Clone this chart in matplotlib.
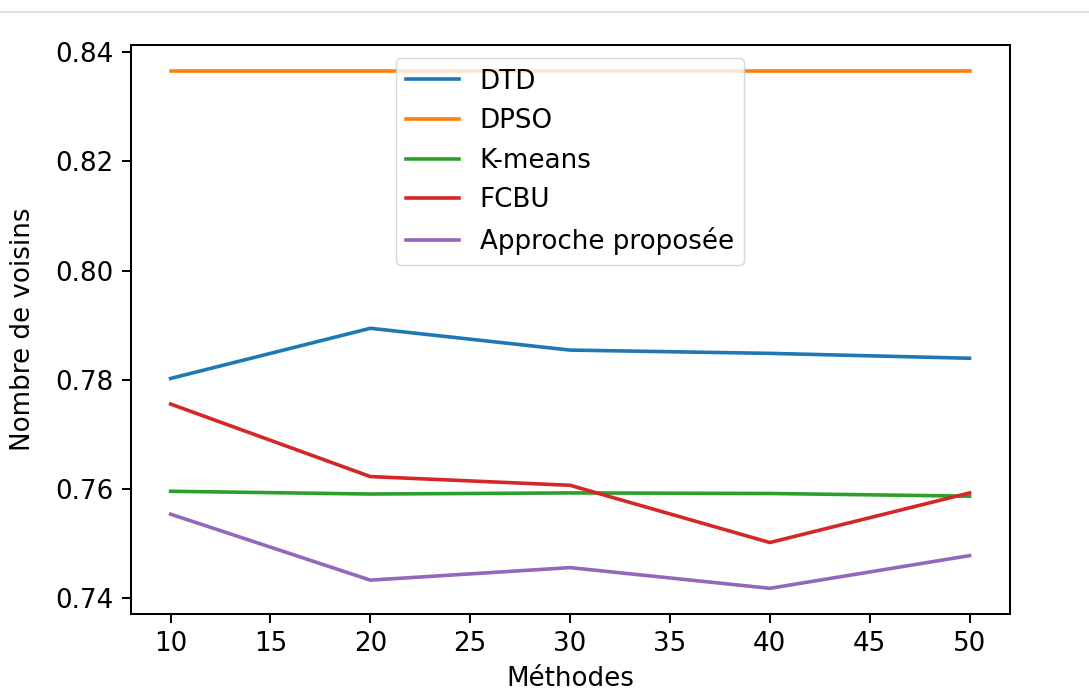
import matplotlib
matplotlib.use("Agg")
import matplotlib.pyplot as plt
from matplotlib.lines import Line2D

# x values and scores
x_vals = [10, 20, 30, 40, 50]
dtd = [0.7802, 0.7894, 0.7854, 0.7848, 0.7839]
dpso = [0.8366, 0.8366, 0.8366, 0.8366, 0.8366]
kmeans = [0.7595, 0.7590, 0.7592, 0.7591, 0.7586]
fcbu = [0.7755, 0.7622, 0.7606, 0.7501, 0.7592]
proposed = [0.7553, 0.7432, 0.7455, 0.7417, 0.7477]

series_names = ["DTD", "DPSO", "K-means", "FCBU", "Approche proposée"]
series_vals = [dtd, dpso, kmeans, fcbu, proposed]

plt.rcParams["font.family"] = ["DejaVu Sans"]
plt.rcParams["font.size"] = 18.8

fig = plt.figure(figsize=(10.89, 6.94), dpi=100)
ax = fig.add_axes([0.120, 0.115, 0.807, 0.820])

for name, vals in zip(series_names, series_vals):
    ax.plot(x_vals, vals, lw=2.6, label=name)

ax.set_xlabel("Méthodes", labelpad=6)
ax.set_ylabel("Nombre de voisins", labelpad=14)
ax.set_yticks([0.74, 0.76, 0.78, 0.80, 0.82, 0.84])
ax.tick_params(length=6.3, width=1.45, pad=6)
for sp in ax.spines.values():
    sp.set_linewidth(1.45)

ax.legend(loc="upper center", handlelength=2.0, borderpad=0.4,
          labelspacing=0.52, framealpha=0.8)

# light cell border at the top of the screenshot
fig.add_artist(Line2D([0, 1], [0.982, 0.982], transform=fig.transFigure,
                      color="#e0e0e0", lw=1.5))

fig.savefig("out.png", dpi=100)
